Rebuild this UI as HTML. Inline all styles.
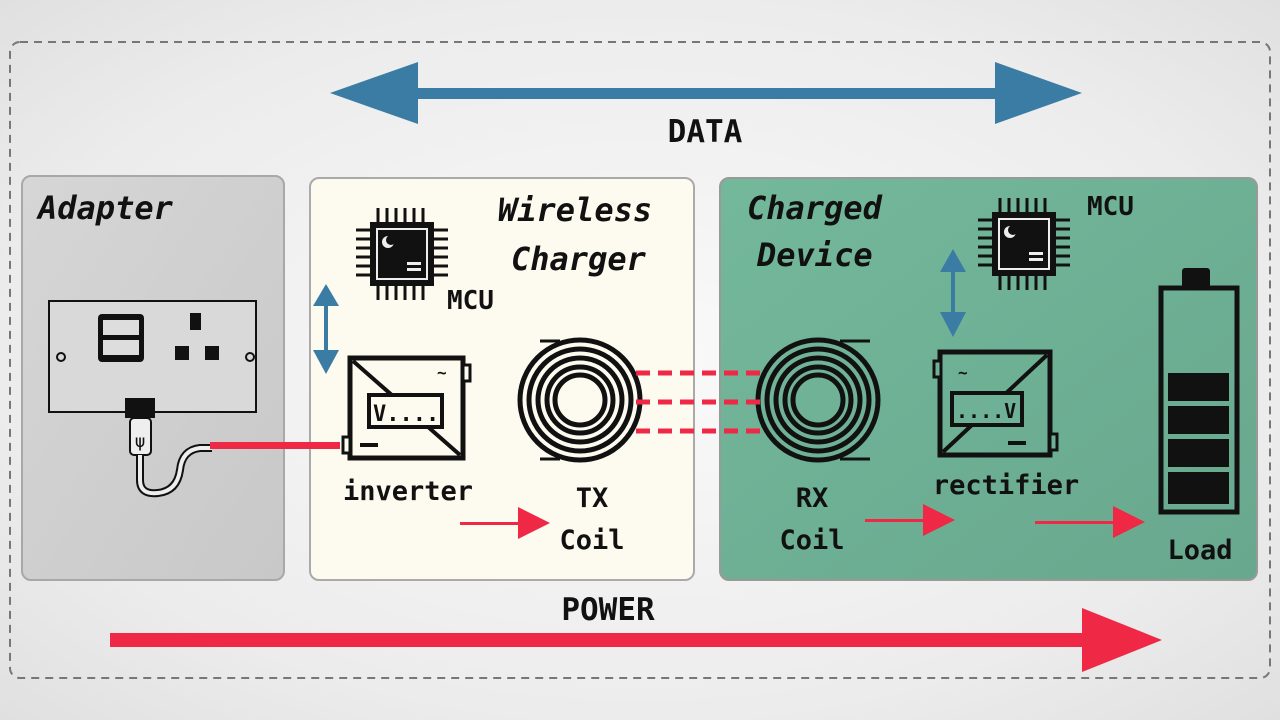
<!DOCTYPE html>
<html><head><meta charset="utf-8"><style>
html,body{margin:0;padding:0;width:1280px;height:720px;overflow:hidden}
body{background:radial-gradient(ellipse at center,#fafafa 0%,#ececec 70%,#e0e0e0 100%)}
svg{display:block}
text{font-family:"DejaVu Sans Mono","Liberation Mono",monospace;fill:#111}
.t{font-style:italic;font-size:32px;font-weight:bold}
.l{font-size:27px;font-weight:bold}
</style></head><body>
<svg width="1280" height="720" viewBox="0 0 1280 720">
<defs>
<linearGradient id="ga" x1="0" y1="0" x2="1" y2="1"><stop offset="0" stop-color="#d6d6d6"/><stop offset="1" stop-color="#c8c8c8"/></linearGradient>
<linearGradient id="gc" x1="0" y1="0" x2="1" y2="1"><stop offset="0" stop-color="#74b89b"/><stop offset="1" stop-color="#68a88e"/></linearGradient>
<g id="chip">
<rect x="-30" y="-30" width="60" height="60" fill="#111" stroke="#111" stroke-width="4"/>
<rect x="-25" y="-25" width="50" height="50" fill="none" stroke="#eee" stroke-width="2"/>
<circle cx="-14" cy="-12" r="6" fill="#eee"/><circle cx="-11" cy="-14" r="5" fill="#111"/>
<rect x="5" y="8" width="14" height="3" fill="#eee"/><rect x="5" y="14" width="14" height="3" fill="#eee"/>
<g stroke="#111" stroke-width="3">
<path d="M-24 -32V-46M-15 -32V-46M-6 -32V-46M3 -32V-46M12 -32V-46M21 -32V-46"/>
<path d="M-24 32V46M-15 32V46M-6 32V46M3 32V46M12 32V46M21 32V46"/>
<path d="M-32 -24H-46M-32 -15H-46M-32 -6H-46M-32 3H-46M-32 12H-46M-32 21H-46"/>
<path d="M32 -24H46M32 -15H46M32 -6H46M32 3H46M32 12H46M32 21H46"/>
</g></g>
<g id="coil" fill="none" stroke="#111" stroke-width="5">
<circle r="60"/><circle r="51"/><circle r="42"/><circle r="33"/><circle r="25"/>
</g>
</defs>
<rect x="10" y="42" width="1260" height="636" rx="10" fill="none" stroke="#777" stroke-width="2" stroke-dasharray="8,6"/>
<rect x="410" y="88" width="590" height="11" fill="#3a7ca3"/>
<polygon points="330,93 418,62 418,124" fill="#3a7ca3"/>
<polygon points="1082,93 995,62 995,124" fill="#3a7ca3"/>
<text x="705" y="142" class="l" text-anchor="middle" style="font-size:31px">DATA</text>
<rect x="22" y="176" width="262" height="404" rx="9" fill="url(#ga)" stroke="#a8a8a8" stroke-width="2"/>
<rect x="310" y="178" width="384" height="402" rx="9" fill="#fdfbef" stroke="#aaa" stroke-width="2"/>
<rect x="720" y="178" width="537" height="402" rx="9" fill="url(#gc)" stroke="#999" stroke-width="2"/>
<text x="38" y="219" class="t">Adapter</text>
<text x="498" y="221" class="t">Wireless</text>
<text x="511" y="270" class="t">Charger</text>
<text x="747" y="219" class="t">Charged</text>
<text x="757" y="266" class="t">Device</text>
<rect x="49" y="301" width="207" height="111" fill="#d9d9d9" stroke="#111" stroke-width="2"/>
<rect x="98" y="314" width="46" height="48" rx="4" fill="#111"/>
<rect x="103" y="320" width="36" height="15" fill="#ddd"/><rect x="103" y="340" width="36" height="15" fill="#ddd"/>
<rect x="190" y="313" width="11" height="17" fill="#111"/>
<rect x="175" y="346" width="14" height="14" fill="#111"/><rect x="205" y="346" width="14" height="14" fill="#111"/>
<circle cx="61" cy="357" r="4" fill="none" stroke="#111" stroke-width="2"/><circle cx="250" cy="357" r="4" fill="none" stroke="#111" stroke-width="2"/>
<rect x="125" y="398" width="30" height="20" fill="#111"/>
<rect x="130" y="418" width="21" height="37" rx="4" fill="#eee" stroke="#111" stroke-width="2"/>
<text x="140" y="447" text-anchor="middle" style="font-size:18px">ψ</text>
<path d="M140 455 V480 Q140 495 158 493 Q177 491 180 470 Q182 450 200 448 H212" fill="none" stroke="#111" stroke-width="8"/>
<path d="M140 455 V480 Q140 495 158 493 Q177 491 180 470 Q182 450 200 448 H212" fill="none" stroke="#eee" stroke-width="4"/>
<rect x="210" y="442" width="130" height="7" fill="#ee2845"/>
<use href="#chip" x="402" y="254"/>
<text x="447" y="309" class="l" style="font-size:26px">MCU</text>
<g fill="#3a7ca3"><rect x="324" y="300" width="4" height="58"/><polygon points="326,284 313,306 339,306"/><polygon points="326,374 313,350 339,350"/></g>
<rect x="350" y="358" width="113" height="100" fill="none" stroke="#111" stroke-width="5"/>
<line x1="353" y1="361" x2="460" y2="455" stroke="#111" stroke-width="4"/>
<rect x="369" y="395" width="73" height="32" fill="#fdfbef" stroke="#111" stroke-width="4"/>
<text x="373" y="421" style="font-size:22px;font-weight:bold">V....</text>
<rect x="463" y="365" width="7" height="16" fill="#fdfbef" stroke="#111" stroke-width="3"/>
<rect x="343" y="437" width="7" height="16" fill="#fdfbef" stroke="#111" stroke-width="3"/>
<rect x="360" y="443" width="18" height="4" fill="#111"/>
<text x="437" y="378" style="font-size:16px;font-weight:bold">~</text>
<text x="408" y="500" class="l" text-anchor="middle">inverter</text>
<use href="#coil" x="580" y="400"/>
<g stroke="#111" stroke-width="3" fill="none"><path d="M540 341 H560 M540 459 H560"/></g>
<use href="#coil" x="818" y="400"/>
<g stroke="#111" stroke-width="3" fill="none"><path d="M840 341 H870 M840 459 H870"/></g>
<g stroke="#ee2845" stroke-width="5" stroke-dasharray="14,8"><path d="M636 373 H760 M636 402 H760 M636 431 H760"/></g>
<text x="592" y="507" class="l" text-anchor="middle">TX</text>
<text x="592" y="549" class="l" text-anchor="middle">Coil</text>
<text x="812" y="507" class="l" text-anchor="middle">RX</text>
<text x="812" y="549" class="l" text-anchor="middle">Coil</text>
<g fill="#ee2845">
<rect x="460" y="522" width="65" height="3"/><polygon points="550,523 518,507 518,539"/>
<rect x="865" y="519" width="65" height="3"/><polygon points="955,520 923,504 923,536"/>
<rect x="1035" y="521" width="85" height="3"/><polygon points="1145,522 1113,506 1113,538"/>
</g>
<use href="#chip" x="1024" y="244"/>
<text x="1087" y="215" class="l" style="font-size:26px">MCU</text>
<g fill="#3a7ca3"><rect x="951" y="262" width="4" height="56"/><polygon points="953,249 940,272 966,272"/><polygon points="953,337 940,312 966,312"/></g>
<rect x="940" y="352" width="110" height="103" fill="none" stroke="#111" stroke-width="5"/>
<line x1="943" y1="452" x2="1047" y2="355" stroke="#111" stroke-width="4"/>
<rect x="952" y="393" width="70" height="32" fill="#6fb196" stroke="#111" stroke-width="4"/>
<text x="956" y="418" style="font-size:20px;font-weight:bold">....V</text>
<rect x="934" y="361" width="7" height="16" fill="#6fb196" stroke="#111" stroke-width="3"/>
<rect x="1050" y="434" width="7" height="16" fill="#6fb196" stroke="#111" stroke-width="3"/>
<rect x="1008" y="441" width="18" height="4" fill="#111"/>
<text x="958" y="378" style="font-size:16px;font-weight:bold">~</text>
<text x="1006" y="494" class="l" text-anchor="middle">rectifier</text>
<rect x="1182" y="268" width="28" height="20" rx="3" fill="#111"/>
<rect x="1161" y="288" width="76" height="224" fill="none" stroke="#111" stroke-width="5"/>
<g fill="#111"><rect x="1168" y="373" width="61" height="28"/><rect x="1168" y="406" width="61" height="28"/><rect x="1168" y="439" width="61" height="28"/><rect x="1168" y="472" width="61" height="32"/></g>
<text x="1200" y="559" class="l" text-anchor="middle">Load</text>
<text x="608" y="620" class="l" text-anchor="middle" style="font-size:31px">POWER</text>
<rect x="110" y="633" width="980" height="14" fill="#ee2845"/>
<polygon points="1162,640 1082,608 1082,672" fill="#ee2845"/>
</svg>
</body></html>
